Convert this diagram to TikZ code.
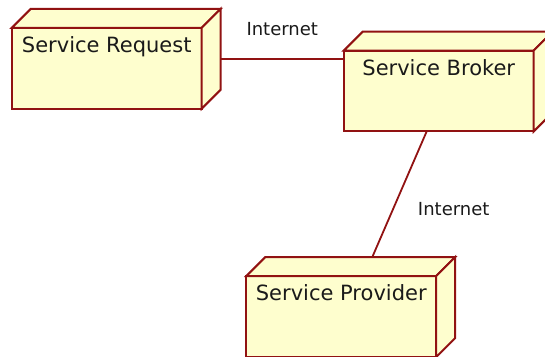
\documentclass[tikz,border=0pt]{standalone}
\usepackage{fontspec}
\setmainfont{DejaVu Sans}
\usetikzlibrary{calc}
\definecolor{boxfill}{HTML}{FEFECE}
\definecolor{boxline}{RGB}{145,18,18}
\definecolor{txt}{HTML}{1A1A1A}
\tikzset{
  bbox/.style={rectangle, inner sep=0pt, minimum width=208.5pt, minimum height=99.5pt},
  face/.style={draw=boxline, fill=boxfill, line width=2pt, line join=miter},
  conn/.style={draw=boxline, line width=1.8pt},
  boxtext/.style={font=\fontsize{21}{24}\selectfont, text=txt, anchor=base, inner sep=0pt},
  conntext/.style={font=\fontsize{18}{21}\selectfont, text=txt, inner sep=0pt},
}
\newcommand\nodebox[1]{%
  \draw[face] (#1.south west) rectangle ([xshift=-19pt,yshift=-19pt]#1.north east);
  \draw[face] ([yshift=-19pt]#1.north west) -- ([xshift=19pt]#1.north west) -- (#1.north east)
     -- ([xshift=-19pt,yshift=-19pt]#1.north east) -- cycle;
  \draw[face] ([xshift=-19pt,yshift=-19pt]#1.north east) -- (#1.north east)
     -- ([yshift=19pt]#1.south east) -- ([xshift=-19pt]#1.south east) -- cycle;
}
\begin{document}
\begin{tikzpicture}[x=1pt,y=-1pt]
\useasboundingbox (0,0) rectangle (545,356);
\node[bbox] (req) at (116.25,58.75) {};
\node[bbox] (brk) at (448.25,81.5) {};
\node[bbox] (prv) at (350.75,307) {};
\nodebox{req}
\nodebox{brk}
\nodebox{prv}
\node[boxtext] (reqt) at ([xshift=-9.5pt,yshift=-43.7pt]req.north) {Service Request};
\node[boxtext] (brkt) at ([xshift=-9.5pt,yshift=-43.7pt]brk.north) {Service Broker};
\node[boxtext] (prvt) at ([xshift=-9.5pt,yshift=-43.7pt]prv.north) {Service Provider};
\draw[conn] (req.east) -- node[conntext, anchor=base, midway, yshift=23pt] (l1) {Internet} (req.east -| brk.west);
\draw[conn] (brk) -- node[conntext, anchor=base west, pos=0.673, xshift=27pt] (l2) {Internet} (prv);
\end{tikzpicture}
\end{document}
